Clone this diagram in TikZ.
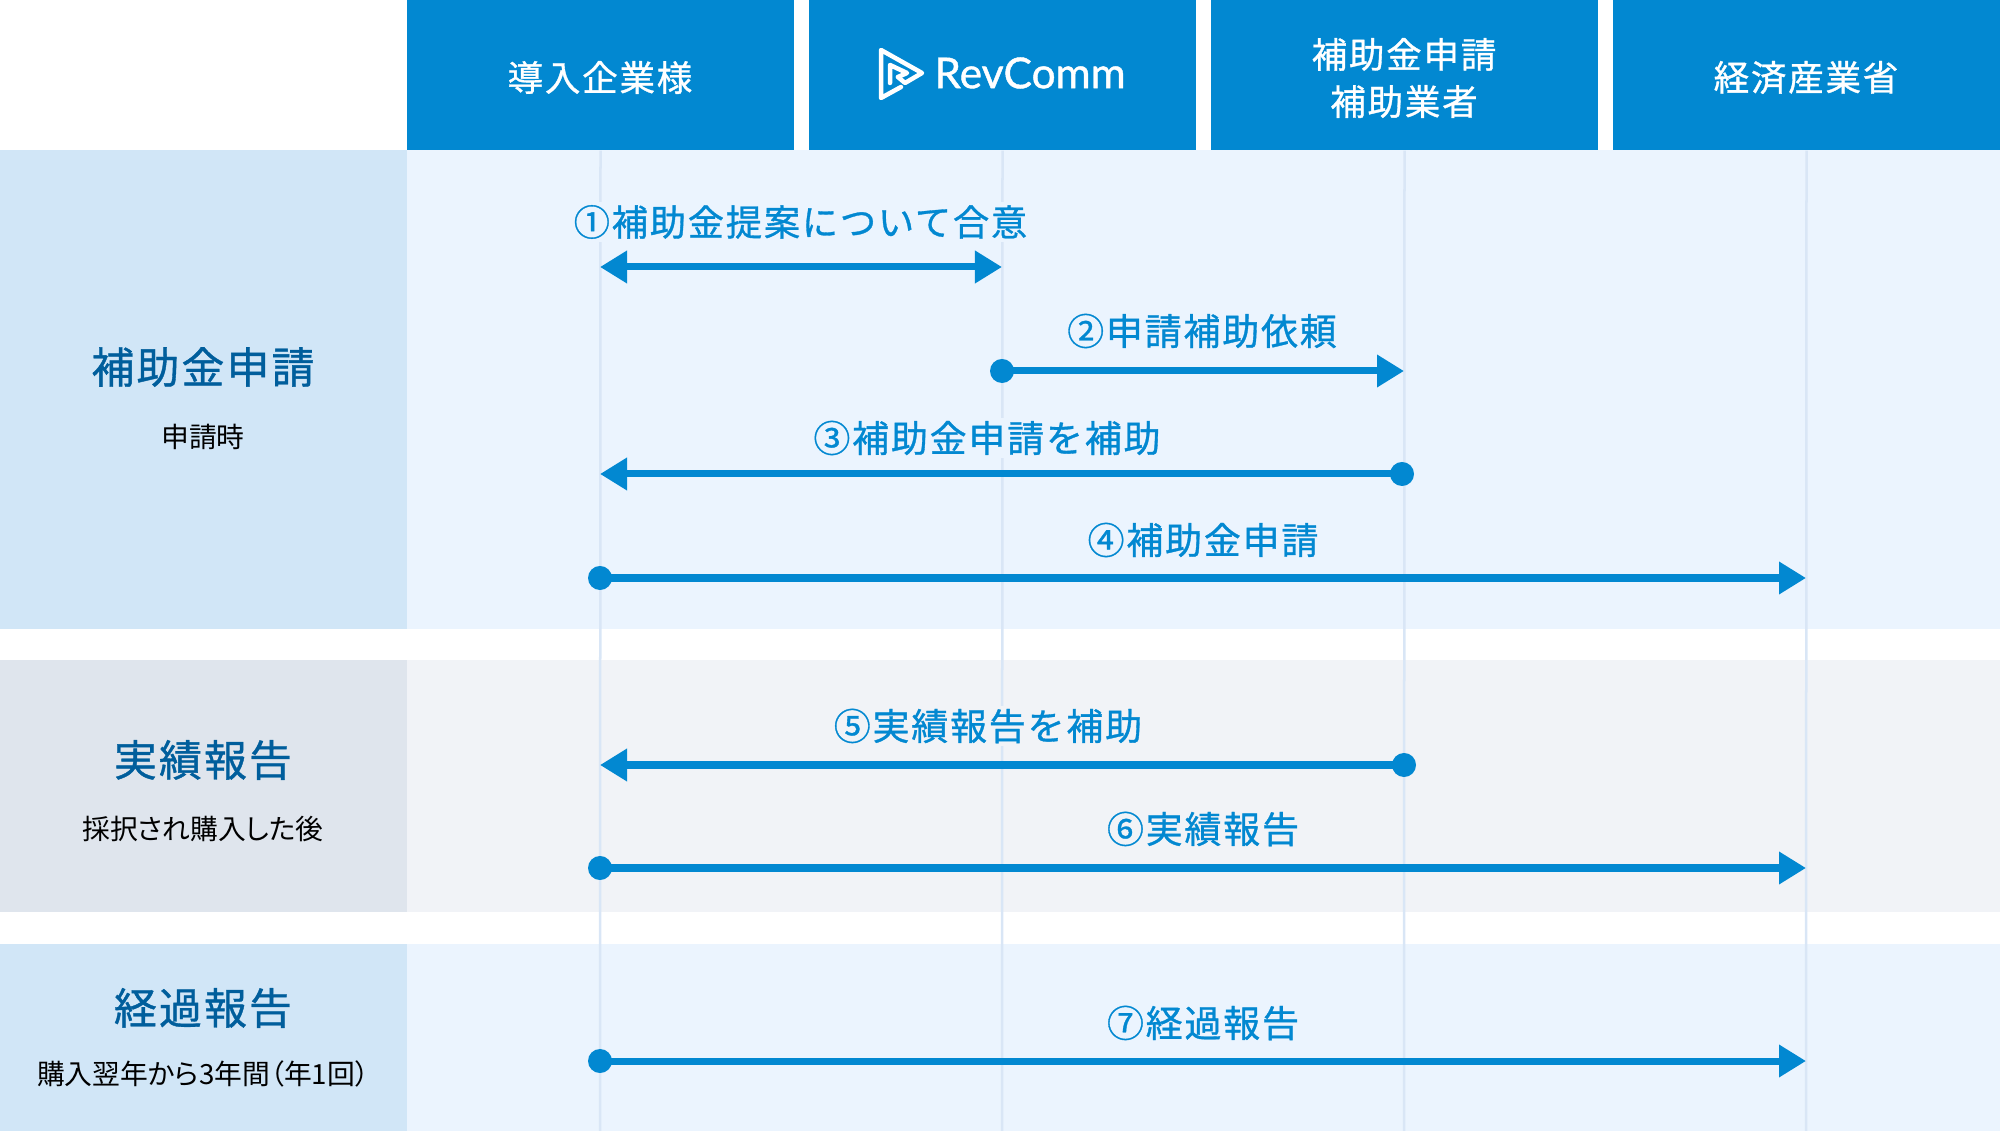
\documentclass[tikz,border=0pt]{standalone}
\usepackage{fontspec}
\usetikzlibrary{arrows.meta,positioning}
\setmainfont{Noto Sans CJK JP}
\newfontfamily\fuenteEtiqueta[FakeBold=0.9,LetterSpace=5]{Noto Sans CJK JP}
\newfontfamily\fuenteNota[RawFeature=+palt]{Noto Sans CJK JP}
\newfontfamily\fuenteLogo[FakeBold=1]{Lato}
\definecolor{azul}{HTML}{0288D1}
\definecolor{azulOscuro}{HTML}{005E9C}
\definecolor{bandaAzul}{HTML}{EBF4FE}
\definecolor{ladoAzul}{HTML}{D1E6F7}
\definecolor{bandaGris}{HTML}{F1F3F7}
\definecolor{ladoGris}{HTML}{DFE5ED}
\definecolor{vidaAzul}{HTML}{D9E6F6}
\tikzset{
    cabecera/.style={rectangle,fill=azul,minimum width=3.87cm,minimum height=1.5cm,inner sep=0pt},
    titulo/.style={text=white,inner sep=0pt,align=center,font=\fuenteEtiqueta\fontsize{10.1}{13.4}\selectfont},
    etapa/.style={text=azulOscuro,inner sep=0pt,font=\fuenteEtiqueta\fontsize{12.2}{14}\selectfont},
    nota/.style={text=black,inner sep=0pt,font=\fuenteNota\fontsize{7.9}{9}\selectfont},
    mensaje/.style={text=azul,inner sep=0pt,minimum height=.4cm,font=\fuenteEtiqueta\fontsize{10.5}{12}\selectfont},
    vida/.style={draw=vidaAzul,line width=.025cm},
    flecha/.style={draw=azul,line width=.07cm,-{Triangle[length=.27cm,width=.31cm]}},
    flechados/.style={draw=azul,line width=.07cm,{Triangle[length=.27cm,width=.31cm]}-{Triangle[length=.27cm,width=.31cm]}},
    punto/.style={circle,fill=azul,inner sep=0pt,outer sep=-.02cm,minimum size=.24cm},
    logo/.style={draw=white,line width=.045cm,line join=round,line cap=round},
}
\begin{document}
\begin{tikzpicture}[x=.01cm,y=-.01cm]
    \useasboundingbox (0,0) rectangle (2000,1131);
    % bandas
    \fill [bandaAzul] (407,150) rectangle (2000,629);
    \fill [ladoAzul] (0,150) rectangle (407,629);
    \fill [bandaGris] (407,660) rectangle (2000,912);
    \fill [ladoGris] (0,660) rectangle (407,912);
    \fill [bandaAzul] (407,944) rectangle (2000,1131);
    \fill [ladoAzul] (0,944) rectangle (407,1131);
    % cabeceras
    \node [cabecera] (empresa) at (600.5,75) {};
    \node [cabecera] (rev) at (1002.5,75) {};
    \node [cabecera] (soporte) at (1404.5,75) {};
    \node [cabecera] (ministerio) at (1806.5,75) {};
    \node [titulo] (empresatexto) at (600,77.5) {導入企業様};
    \node [titulo] (soportetexto) at (1404,78) {補助金申請\\補助業者};
    \node [titulo] (ministeriotexto) at (1806,77.5) {経済産業省};
    \node [text=white,inner sep=0pt,font=\fuenteLogo\fontsize{12.1}{13}\selectfont] (revtexto) at (1030,73) {RevComm};
    \draw [logo] (901,87) -- (881,98) -- (881,50) -- (922,73) -- (905,83) -- (898,77);
    \draw [logo] (890,83) -- (890,65) -- (907,73) -- (898,77);
    % columna izquierda
    \node [etapa] (fase1) at (203,367) {補助金申請};
    \node [nota,below=.36cm of fase1] (nota1) {申請時};
    \node [etapa] (fase2) at (203,760) {実績報告};
    \node [nota,below=.35cm of fase2] (nota2) {採択され購入した後};
    \node [etapa] (fase3) at (203,1008) {経過報告};
    \node [nota,below=.31cm of fase3] (nota3) {購入翌年から3年間（年1回）};
    % lineas de vida
    \coordinate (finA) at (600,1131);
    \coordinate (finB) at (1002,1131);
    \coordinate (finC) at (1404,1131);
    \coordinate (finD) at (1806,1131);
    \draw [vida] (empresa.south) -- (finA);
    \draw [vida] (rev.south) -- (finB);
    \draw [vida] (soporte.south) -- (finC);
    \draw [vida] (ministerio.south) -- (finD);
    % mensajes
    \node [mensaje,fill=bandaAzul,font=\fuenteEtiqueta\fontsize{10.3}{12}\selectfont] (m1) at (800.5,222) {①補助金提案について合意};
    \node [mensaje,fill=bandaAzul] (m2) at (1202,331) {②申請補助依頼};
    \node [mensaje,fill=bandaAzul] (m3) at (987,438) {③補助金申請を補助};
    \node [mensaje,fill=bandaAzul] (m4) at (1203,540) {④補助金申請};
    \node [mensaje,fill=bandaGris] (m5) at (988,726) {⑤実績報告を補助};
    \node [mensaje,fill=bandaGris] (m6) at (1203,829) {⑥実績報告};
    \node [mensaje,fill=bandaAzul] (m7) at (1203,1023) {⑦経過報告};
    % flechas
    \coordinate (a1) at (600,267);
    \coordinate (b1) at (1002,267);
    \path [flechados] (a1) -- (b1);
    \node [punto] (p2) at (1002,371) {};
    \coordinate (c2) at (1404,371);
    \path [flecha] (p2) -- (c2);
    \node [punto] (p3) at (1402,474) {};
    \coordinate (a3) at (600,474);
    \path [flecha] (p3) -- (a3);
    \node [punto] (p4) at (600,578) {};
    \coordinate (d4) at (1806,578);
    \path [flecha] (p4) -- (d4);
    \node [punto] (p5) at (1404,765) {};
    \coordinate (a5) at (600,765);
    \path [flecha] (p5) -- (a5);
    \node [punto] (p6) at (600,868) {};
    \coordinate (d6) at (1806,868);
    \path [flecha] (p6) -- (d6);
    \node [punto] (p7) at (600,1061) {};
    \coordinate (d7) at (1806,1061);
    \path [flecha] (p7) -- (d7);
\end{tikzpicture}
\end{document}
